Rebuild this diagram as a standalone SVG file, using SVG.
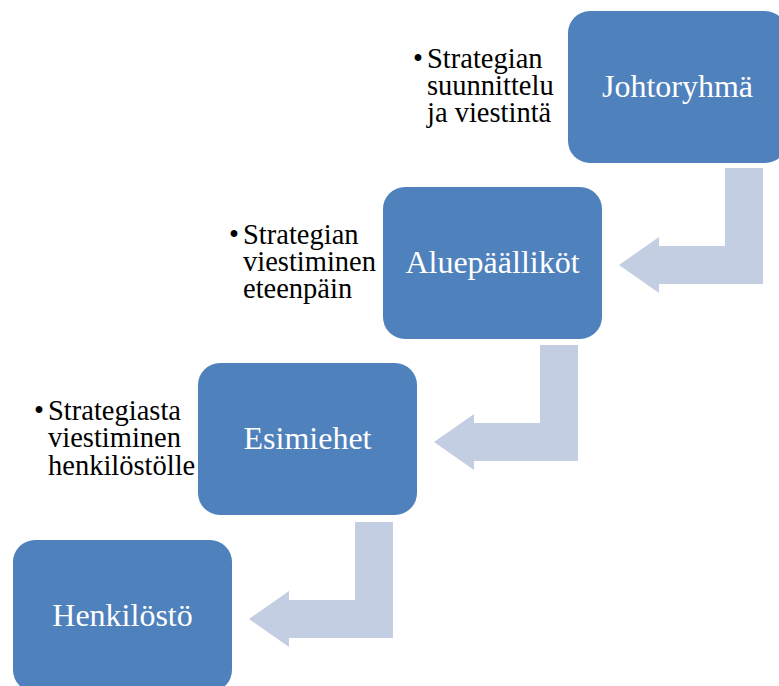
<svg xmlns="http://www.w3.org/2000/svg" width="779" height="686" viewBox="0 0 779 686">
  <style>
    .box { fill: #4F81BD; }
    .label { font-size: 32px; fill: #FFFFFF; text-anchor: middle; }
    .note { font-size: 28.5px; fill: #000000; }
    .bend { fill: #C4CEE3; }
  </style>
  <defs>
    <!-- bent arrow: stem down, then left with arrowhead -->
    <polygon id="bent" class="bend" points="725,168 763,168 763,284 659,284 659,293 619,265 659,237 659,246 725,246"/>
  </defs>

  <rect width="779" height="686" fill="#FFFFFF"/>

  <g id="connectors">
    <use href="#bent"/>
    <use href="#bent" transform="translate(-185,177)"/>
    <use href="#bent" transform="translate(-370,354)"/>
  </g>

  <g id="johtoryhma" font-family="'Liberation Serif', 'Times New Roman', serif">
    <rect class="box" x="568" y="11" width="219" height="152" rx="22" ry="22"/>
    <text class="label" x="677.5" y="97">Johtoryhmä</text>
    <text class="note" x="413" y="68">•<tspan x="427">Strategian</tspan></text>
    <text class="note" x="427" y="95">suunnittelu</text>
    <text class="note" x="427" y="122">ja viestintä</text>
  </g>

  <g id="aluepaallikot" font-family="'Liberation Serif', 'Times New Roman', serif">
    <rect class="box" x="383" y="187" width="219" height="152" rx="22" ry="22"/>
    <text class="label" x="492.5" y="273">Aluepäälliköt</text>
    <text class="note" x="229" y="244">•<tspan x="243">Strategian</tspan></text>
    <text class="note" x="243" y="271">viestiminen</text>
    <text class="note" x="243" y="298">eteenpäin</text>
  </g>

  <g id="esimiehet" font-family="'Liberation Serif', 'Times New Roman', serif">
    <rect class="box" x="198" y="363" width="219" height="152" rx="22" ry="22"/>
    <text class="label" x="307.5" y="449">Esimiehet</text>
    <text class="note" x="34" y="420">•<tspan x="48">Strategiasta</tspan></text>
    <text class="note" x="48" y="447">viestiminen</text>
    <text class="note" x="48" y="475">henkilöstölle</text>
  </g>

  <g id="henkilosto" font-family="'Liberation Serif', 'Times New Roman', serif">
    <rect class="box" x="13" y="540" width="219" height="152" rx="22" ry="22"/>
    <text class="label" x="122.5" y="626">Henkilöstö</text>
  </g>
</svg>
